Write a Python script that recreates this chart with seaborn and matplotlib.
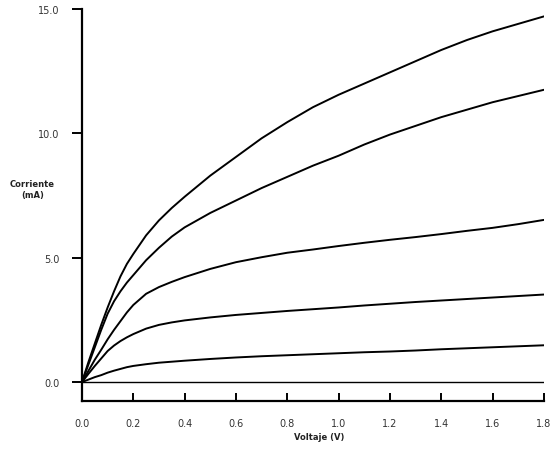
import numpy as np
import pandas as pd
import matplotlib
matplotlib.use("Agg")
import matplotlib.pyplot as plt
import seaborn as sns

# Voltage samples (V) and the five I-V curves (mA)
voltaje = [0.0, 0.025, 0.05, 0.075, 0.1, 0.125, 0.15, 0.175, 0.2, 0.25, 0.3, 0.35, 0.4,
           0.5, 0.6, 0.7, 0.8, 0.9, 1.0, 1.1, 1.2, 1.3, 1.4, 1.5, 1.6, 1.7, 1.8]
curva_1 = [0.0, 0.8, 1.55, 2.3, 3.0, 3.65, 4.25, 4.75, 5.15, 5.9, 6.5, 7.0, 7.45,
           8.3, 9.05, 9.8, 10.45, 11.05, 11.55, 12.0, 12.45, 12.9, 13.35, 13.75, 14.1, 14.4, 14.7]
curva_2 = [0.0, 0.7, 1.4, 2.1, 2.75, 3.25, 3.65, 4.0, 4.3, 4.9, 5.4, 5.85, 6.22,
           6.8, 7.3, 7.8, 8.25, 8.7, 9.1, 9.55, 9.95, 10.3, 10.65, 10.95, 11.25, 11.5, 11.75]
curva_3 = [0.0, 0.45, 0.9, 1.3, 1.72, 2.1, 2.45, 2.8, 3.1, 3.55, 3.82, 4.03, 4.22,
           4.55, 4.82, 5.02, 5.2, 5.33, 5.47, 5.6, 5.72, 5.83, 5.95, 6.08, 6.2, 6.35, 6.52]
curva_4 = [0.0, 0.33, 0.65, 0.95, 1.25, 1.47, 1.65, 1.8, 1.93, 2.15, 2.3, 2.4, 2.48,
           2.6, 2.7, 2.78, 2.86, 2.93, 3.0, 3.08, 3.15, 3.22, 3.28, 3.34, 3.4, 3.46, 3.52]
curva_5 = [0.0, 0.1, 0.2, 0.28, 0.38, 0.46, 0.53, 0.6, 0.65, 0.72, 0.78, 0.82, 0.86,
           0.93, 0.99, 1.04, 1.08, 1.12, 1.16, 1.2, 1.23, 1.27, 1.32, 1.36, 1.4, 1.44, 1.48]

x_ticks = [0.0, 0.2, 0.4, 0.6, 0.8, 1.0, 1.2, 1.4, 1.6, 1.8]
y_ticks = [0.0, 5.0, 10.0, 15.0]

curvas = [curva_1, curva_2, curva_3, curva_4, curva_5]
frames = []
for i, c in enumerate(curvas):
    frames.append(pd.DataFrame({"Voltaje": voltaje, "Corriente": c, "curva": i}))
df = pd.concat(frames, ignore_index=True)

sns.set_theme(style="ticks")
plt.rcParams["font.family"] = ["DejaVu Sans"]

fig = plt.figure(figsize=(5.55, 4.52), dpi=100)
ax = fig.add_axes([0.1477, 0.1106, 0.8323, 0.8674])

sns.lineplot(data=df, x="Voltaje", y="Corriente", units="curva", estimator=None,
             color="black", linewidth=1.4, ax=ax, legend=False)
ax.axhline(0, color="black", linewidth=1.0, xmin=0, xmax=1)

ax.set_xlim(0, 1.8)
ax.set_ylim(-0.76, 15.0)
ax.set_xticks(x_ticks)
ax.set_xticklabels([f"{t:.1f}" for t in x_ticks])
ax.set_yticks(y_ticks)
ax.set_yticklabels([f"{t:.1f}" for t in y_ticks])

for s in ["top", "right"]:
    ax.spines[s].set_visible(False)
for s in ["left", "bottom"]:
    ax.spines[s].set_linewidth(1.6)
    ax.spines[s].set_color("black")

ax.tick_params(axis="y", direction="out", length=7, width=1.4, pad=9,
               labelsize=7, colors="black", labelcolor="#333333")
ax.tick_params(axis="x", direction="in", length=6, width=1.4, pad=12,
               labelsize=7, colors="black", labelcolor="#333333")

ax.set_xlabel("")
ax.set_ylabel("")
fig.text(0.058, 0.58, "Corriente\n(mA)", ha="center", va="center",
         fontsize=6, fontweight="bold", color="#222222")
fig.text(0.576, 0.033, "Voltaje (V)", ha="center", va="center",
         fontsize=6, fontweight="bold", color="#222222")

fig.savefig("out.png", dpi=100)
